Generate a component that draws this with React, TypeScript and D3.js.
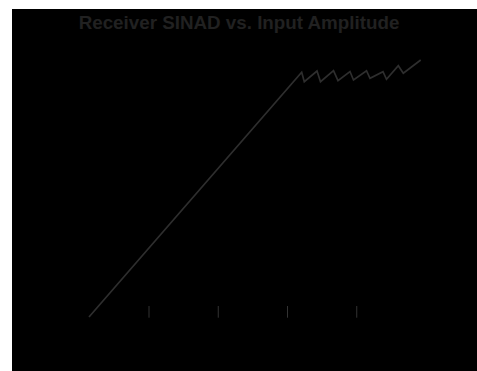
import React from "react";
import * as d3 from "d3";

// Input amplitude sweep (dBm) and measured SINAD (dB)
const inputDbm = [
  -117.33, -55.9, -55.15, -51.48, -50.47, -46.71, -45.42, -41.95, -40.94,
  -37.18, -36.17, -32.42, -31.41, -28.0, -26.56, -21.53,
];
const sinadDb = [
  0, 53.98, 51.9, 54.26, 51.9, 54.33, 52.13, 54.15, 52.28, 54.33, 52.65,
  54.11, 52.43, 55.43, 53.76, 56.69,
];
const xTickValues = [-100, -80, -60, -40];
const title = "Receiver SINAD vs. Input Amplitude";

const W = 477;
const H = 371;

export default function App() {
  const x = d3.scaleLinear().domain([-120, -20]).range([79.75, 426.0]);
  const y = d3.scaleLinear().domain([0, 60]).range([317, 45]);

  const points: [number, number][] = inputDbm.map((v, i) => [v, sinadDb[i]]);
  const line = d3
    .line<[number, number]>()
    .x((d) => x(d[0]))
    .y((d) => y(d[1]));

  const axisY = y(0);

  return (
    <svg
      width={W}
      height={H}
      style={{ position: "fixed", left: 0, top: 0, display: "block" }}
    >
      <rect x={0} y={0} width={W} height={H} fill="#ffffff" />
      <rect x={12} y={9} width={W - 12} height={H - 9} fill="#000000" />
      <text
        x={239}
        y={29}
        textAnchor="middle"
        fontFamily="'Liberation Sans', Arial, sans-serif"
        fontWeight="bold"
        fontSize={18.8}
        fill="#212121"
      >
        {title}
      </text>
      <g>
        {xTickValues.map((t) => (
          <g key={t} transform={`translate(${x(t)},0)`}>
            <line y1={axisY - 11} y2={axisY + 0.7} stroke="#333333" strokeWidth={1} />
            <text
              y={axisY + 16}
              textAnchor="middle"
              fontFamily="'Liberation Sans', Arial, sans-serif"
              fontSize={11}
              fill="#000000"
            >
              {t}
            </text>
          </g>
        ))}
      </g>
      <path
        d={line(points) || ""}
        fill="none"
        stroke="#2e2e2e"
        strokeWidth={1.7}
        strokeLinejoin="miter"
      />
    </svg>
  );
}
